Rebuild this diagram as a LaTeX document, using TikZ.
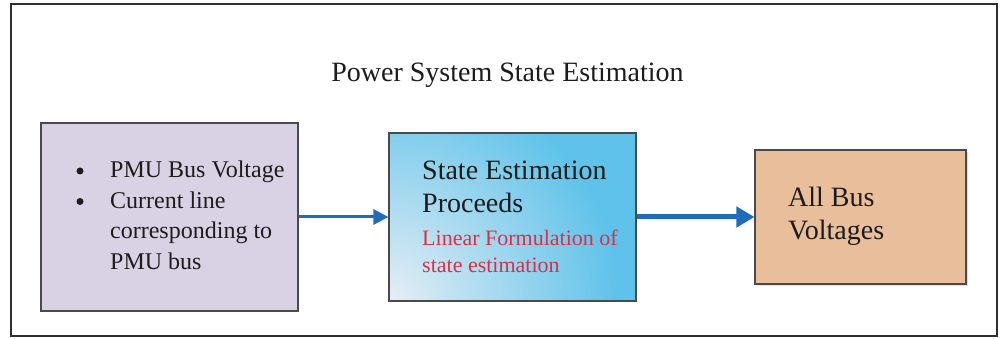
\documentclass[tikz,border=0pt]{standalone}
\usepackage{fontspec}
\setmainfont{Liberation Serif}
\usetikzlibrary{arrows.meta,shadows}

\definecolor{frameline}{HTML}{2F2F2F}
\definecolor{boxline}{HTML}{4A4A4A}
\definecolor{inputfill}{HTML}{D9D2E4}
\definecolor{resultfill}{HTML}{E9BE9A}
\definecolor{seLight}{HTML}{E6EEF4}
\definecolor{seBlue}{HTML}{5EC2EA}
\definecolor{flowblue}{HTML}{1F6DBA}
\definecolor{notered}{HTML}{DC2F45}
\definecolor{ink}{HTML}{1C1C1C}

% pale centre that turns blue a quarter of the way out
\pgfdeclareradialshading{cornerglow}{\pgfpoint{0bp}{0bp}}{color(0bp)=(seLight); color(12.5bp)=(seBlue); color(50bp)=(seBlue)}

\begin{document}
\begin{tikzpicture}[x=1pt,y=-1pt,
  block/.style={draw=boxline, line width=1.1pt, rectangle, inner sep=0pt},
  txt/.style={inner sep=0pt, anchor=base west, text=ink},
  dot/.style={circle, fill=ink, inner sep=0pt, minimum size=7pt},
  bigfont/.style={font=\fontsize{28}{34}\selectfont},
  listfont/.style={font=\fontsize{24}{30}\selectfont},
  notefont/.style={font=\fontsize{22}{26}\selectfont, text=notered},
  flow/.style={draw=flowblue, line width=3pt},
  % blue fill that fades to a pale glow in the lower left corner
  glowfill/.style={fill=seBlue, path picture={
      \shade[shading=cornerglow]
        (path picture bounding box.south west) circle (460pt);}},
]
\useasboundingbox (0,0) rectangle (1001,339);

% outer frame
\draw[frameline, line width=2pt] (11,4) rectangle (997,336);

% title
\node[inner sep=0pt, anchor=base, text=ink, bigfont] (title) at (507.5,82) {Power System State Estimation};

% blocks
\node[block, fill=inputfill, minimum width=257pt, minimum height=188pt] (inputs) at (169.5,217) {};
\node[block, glowfill, minimum width=247pt, minimum height=168pt] (estim) at (512.5,217) {};
\node[block, fill=resultfill, minimum width=211pt, minimum height=134pt,
      drop shadow={shadow xshift=2pt, shadow yshift=-2pt, opacity=0.25}] (result) at (860.5,217) {};

% measurement list
\node[dot] (b1) at (80,171) {};
\node[dot] (b2) at (80,201.5) {};
\node[txt, listfont] (m1) at (110,178) {PMU Bus Voltage};
\node[txt, listfont] (m2) at (110,208.5) {Current line};
\node[txt, listfont] (m3) at (110,239) {corresponding to};
\node[txt, listfont] (m4) at (110,269.5) {PMU bus};

% estimation block text
\node[txt, bigfont] (e1) at (422,180) {State Estimation};
\node[txt, bigfont] (e2) at (422,213) {Proceeds};
\node[txt, notefont] (e3) at (422,245) {Linear Formulation of};
\node[txt, notefont] (e4) at (422,272) {state estimation};

% result block text
\node[txt, bigfont] (r1) at (788,207) {All Bus};
\node[txt, bigfont] (r2) at (788,240) {Voltages};

% connectors
\draw[flow, -{Triangle[length=15pt, width=15pt]}] (inputs.east) -- (estim.west);
\draw[flow, line width=5pt, -{Triangle[length=18pt, width=20pt]}] (estim.east) -- (result.west);
\end{tikzpicture}
\end{document}
